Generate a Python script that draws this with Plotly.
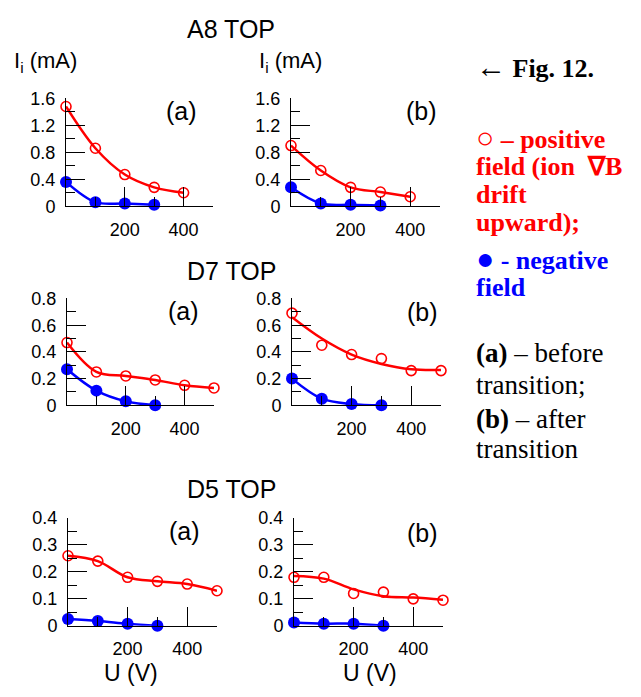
import plotly.graph_objects as go

# ---------------- data ----------------
U_A8 = [0, 100, 200, 300, 400]
U_POS = [0, 100, 200, 300, 400, 500]
U_NEG = [0, 100, 200, 300]

a8a_pos = [1.48, 0.86, 0.47, 0.28, 0.20]
a8a_neg = [0.36, 0.06, 0.04, 0.02]
a8b_pos = [0.90, 0.53, 0.28, 0.21, 0.14]
a8b_neg = [0.28, 0.04, 0.02, 0.01]

d7a_pos = [0.47, 0.25, 0.22, 0.19, 0.15, 0.13]
d7a_neg = [0.27, 0.11, 0.03, 0.0]
d7b_pos = [0.69, 0.45, 0.38, 0.35, 0.26, 0.26]
d7b_fit = [0.66, 0.50, 0.38, 0.31, 0.27, 0.265]
d7b_neg = [0.20, 0.05, 0.01, 0.0]

d5a_pos = [0.26, 0.24, 0.18, 0.165, 0.155, 0.13]
d5a_neg = [0.025, 0.018, 0.008, 0.0]
d5b_pos = [0.18, 0.18, 0.12, 0.125, 0.10, 0.095]
d5b_fit = [0.185, 0.175, 0.135, 0.11, 0.105, 0.097]
d5b_neg = [0.012, 0.008, 0.008, 0.0]

y_ticks_a8 = [0, 0.4, 0.8, 1.2, 1.6]
y_ticks_d7 = [0, 0.2, 0.4, 0.6, 0.8]
y_ticks_d5 = [0, 0.1, 0.2, 0.3, 0.4]
x_ticks = [200, 400]
x_minor = [100, 300, 500]

titles = ["A8 TOP", "D7 TOP", "D5 TOP"]

# ---------------- layout ----------------
W, H = 641, 697
RED = "#ff0000"
BLUE = "#0000ff"
SANS = "Liberation Sans, Arial, sans-serif"
SERIF = "Liberation Serif, Times New Roman, serif"

def fx(p):
    return p / W

def fy(p):
    return 1 - p / H

# (x_left, x_right, y_top, y_bottom) in pixels
boxes = [
    (66, 213, 91, 202), (291, 440, 91, 202),
    (67, 214, 297, 407), (292, 441, 297, 407),
    (68, 217, 523, 634), (294, 443, 523, 634),
]

panels = [
    (U_A8, a8a_pos, a8a_pos, a8a_neg, y_ticks_a8, 0.2, "(a)"),
    (U_A8, a8b_pos, a8b_pos, a8b_neg, y_ticks_a8, 0.2, "(b)"),
    (U_POS, d7a_pos, d7a_pos, d7a_neg, y_ticks_d7, 0.1, "(a)"),
    (U_POS, d7b_pos, d7b_fit, d7b_neg, y_ticks_d7, 0.1, "(b)"),
    (U_POS, d5a_pos, d5a_pos, d5a_neg, y_ticks_d5, 0.05, "(a)"),
    (U_POS, d5b_pos, d5b_fit, d5b_neg, y_ticks_d5, 0.05, "(b)"),
]

fig = go.Figure()
layout = dict(
    width=W, height=H, margin=dict(l=0, r=0, t=0, b=0),
    paper_bgcolor="white", plot_bgcolor="white", showlegend=False,
)
annotations = []

for i, ((x0, x1, yt, yb), (ux, pos, fit, neg, yt_vals, ymin, lab)) in enumerate(zip(boxes, panels)):
    n = i + 1
    xa = "x" if n == 1 else f"x{n}"
    ya = "y" if n == 1 else f"y{n}"
    xkey = "xaxis" if n == 1 else f"xaxis{n}"
    ykey = "yaxis" if n == 1 else f"yaxis{n}"

    # red smooth curve
    fig.add_trace(go.Scatter(x=ux, y=fit, mode="lines", line=dict(color=RED, width=2.5, shape="spline"),
                             xaxis=xa, yaxis=ya, cliponaxis=False, hoverinfo="skip"))
    # blue line + filled markers
    fig.add_trace(go.Scatter(x=U_NEG, y=neg, mode="lines+markers",
                             line=dict(color=BLUE, width=2.5, shape="spline"),
                             marker=dict(symbol="circle", size=12, color=BLUE),
                             xaxis=xa, yaxis=ya, cliponaxis=False))
    # red open markers
    fig.add_trace(go.Scatter(x=ux, y=pos, mode="markers",
                             marker=dict(symbol="circle-open", size=10, color=RED, line=dict(width=1.6, color=RED)),
                             xaxis=xa, yaxis=ya, cliponaxis=False))

    ymax = yt_vals[-1]
    layout[xkey] = dict(
        domain=[fx(x0), fx(x1)], anchor=ya, range=[0, 500],
        showgrid=False, zeroline=False, showline=True, linecolor="black", linewidth=1,
        ticks="inside", ticklen=19, tickwidth=1, tickcolor="black",
        tickmode="array", tickvals=x_ticks, ticktext=[str(v) for v in x_ticks],
        tickfont=dict(family=SANS, size=18, color="black"), ticklabelstandoff=7,
        minor=dict(ticks="inside", ticklen=9, tickwidth=1, tickcolor="black", tickmode="array", tickvals=x_minor),
        fixedrange=True,
    )
    layout[ykey] = dict(
        domain=[fy(yb), fy(yt)], anchor=xa, range=[0, ymax],
        showgrid=False, zeroline=False, showline=True, linecolor="black", linewidth=1,
        ticks="inside", ticklen=19, tickwidth=1, tickcolor="black",
        tickmode="array", tickvals=yt_vals, ticktext=[f"{v:g}" for v in yt_vals],
        tickfont=dict(family=SANS, size=18, color="black"), ticklabelstandoff=6,
        minor=dict(ticks="inside", ticklen=9, tickwidth=1, tickcolor="black", dtick=ymin, tick0=0),
        fixedrange=True,
    )

# panel letters
lab_pos = [(181, 104), (421, 104), (183, 310), (422, 311), (185, 536), (422, 538)]
for (px, py), p in zip(lab_pos, panels):
    annotations.append(dict(x=fx(px), y=fy(py), xref="paper", yref="paper", text=p[6], showarrow=False,
                            xanchor="center", yanchor="middle", font=dict(family=SANS, size=25, color="black")))

# row titles
for t, py in zip(titles, [20, 269, 493]):
    annotations.append(dict(x=fx(231), y=fy(py), xref="paper", yref="paper", text=t, showarrow=False,
                            xanchor="center", yanchor="middle", font=dict(family=SANS, size=25, color="black")))

# y labels
for px in [12, 257]:
    annotations.append(dict(x=fx(px), y=fy(54), xref="paper", yref="paper", text="I<sub>i</sub> (mA)",
                            showarrow=False, xanchor="left", yanchor="middle",
                            font=dict(family=SANS, size=22, color="black")))

# x labels
for px in [131, 370]:
    annotations.append(dict(x=fx(px), y=fy(683), xref="paper", yref="paper", text="U (V)",
                            showarrow=False, xanchor="center", yanchor="middle",
                            font=dict(family=SANS, size=23, color="black")))

# right side text
right = [
    ("<b><span style='font-size:30px'>\u2190</span> Fig. 12.</b>", "black", 58),
    ("<b><span style='font-size:30px'>\u25cb</span> \u2013 positive</b>", RED, 131),
    ("<b>field (ion \u00a0\u2207B</b>", RED, 161),
    ("<b>drift</b>", RED, 190),
    ("<b>upward);</b>", RED, 219),
    ("<b><span style='font-size:30px'>\u25cf</span> - negative</b>", BLUE, 256),
    ("<b>field</b>", BLUE, 286),
]
for txt, col, py in right:
    annotations.append(dict(x=fx(474), y=fy(py), xref="paper", yref="paper", text=txt, showarrow=False,
                            xanchor="left", yanchor="middle", font=dict(family=SERIF, size=26, color=col)))

notes = [
    ("<b>(a)</b> \u2013 before", 353),
    ("transition;", 386),
    ("<b>(b)</b> \u2013 after", 421),
    ("transition", 452),
]
for txt, py in notes:
    annotations.append(dict(x=fx(474), y=fy(py), xref="paper", yref="paper", text=txt, showarrow=False,
                            xanchor="left", yanchor="middle", font=dict(family=SERIF, size=27, color="black")))

layout["annotations"] = annotations
fig.update_layout(**layout)
fig.write_html("out.html")
